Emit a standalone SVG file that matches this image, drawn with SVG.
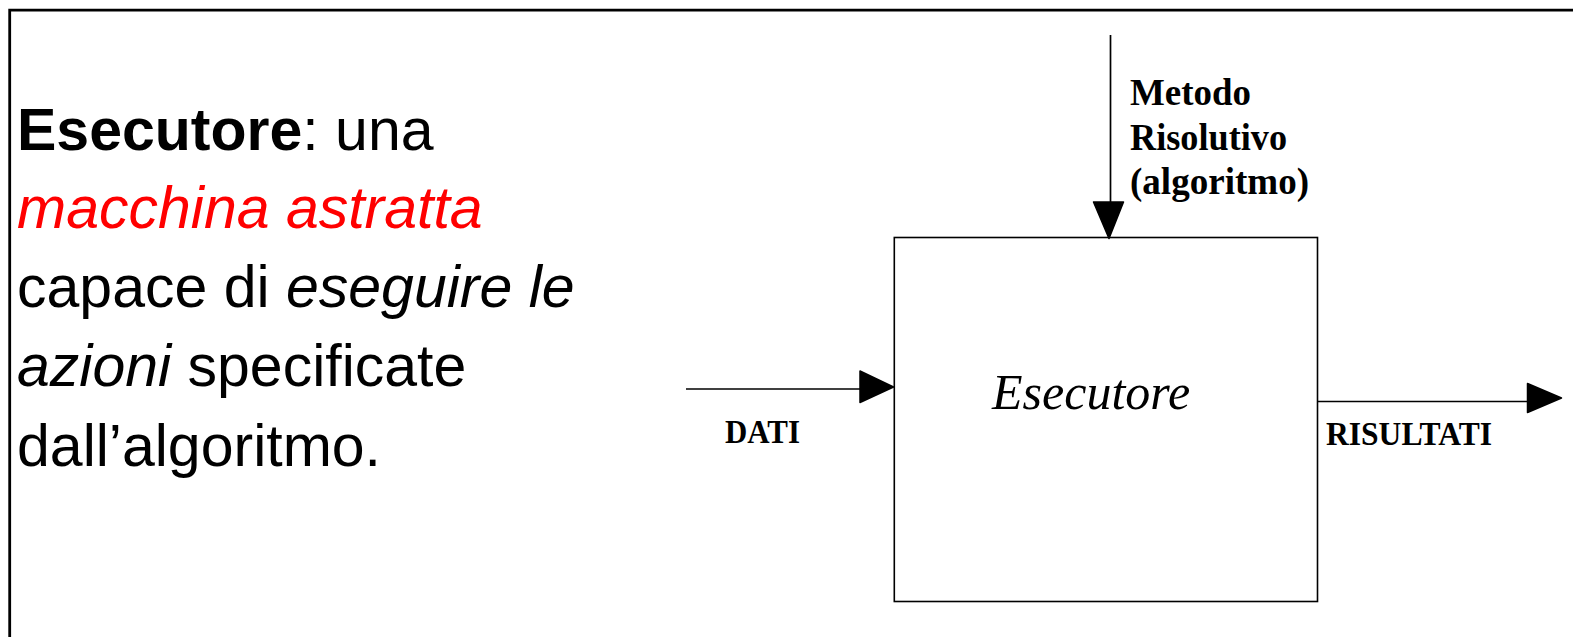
<svg xmlns="http://www.w3.org/2000/svg" width="1573" height="637" viewBox="0 0 1573 637">
  <style>
    .frame { fill: none; stroke: #000; stroke-width: 2.8; }
    .box { fill: #fff; stroke: #000; stroke-width: 1.6; }
    .wire { fill: none; stroke: #000; stroke-width: 1.7; }
    .head { fill: #000; stroke: #000; stroke-width: 1.5; stroke-linejoin: round; }
    .sans { font-family: "Liberation Sans", Arial, sans-serif; font-size: 59px; fill: #000; }
    .serifb { font-family: "Liberation Serif", "Times New Roman", serif; font-weight: bold; fill: #000; }
    .lbl { font-size: 33px; }
    .red { fill: #ff0000; }
  </style>

  <rect width="1573" height="637" fill="#fff"/>

  <!-- slide frame: open at right and bottom -->
  <path class="frame" d="M9.7 637 V10.2 H1573"/>

  <!-- description text -->
  <g id="description" class="sans">
    <text x="17" y="150"><tspan font-weight="bold">Esecutore</tspan>: una</text>
    <text x="17" y="228" class="red" font-style="italic">macchina astratta</text>
    <text x="17" y="307">capace di <tspan font-style="italic">eseguire le</tspan></text>
    <text x="17" y="386"><tspan font-style="italic">azioni</tspan> specificate</text>
    <text x="17" y="466">dall’algoritmo.</text>
  </g>

  <!-- executor block -->
  <g id="esecutore">
    <rect class="box" x="894.3" y="237.5" width="423.2" height="364"/>
    <text x="992" y="409" font-family="'Liberation Serif', 'Times New Roman', serif" font-style="italic" font-size="50" fill="#000">Esecutore</text>
  </g>

  <!-- connectors -->
  <g id="connectors">
    <g id="edge-metodo">
      <line class="wire" x1="1110.5" y1="35" x2="1110.5" y2="203"/>
      <path class="head" d="M1093.5 202 L1123.5 202 L1109 238.5 Z"/>
    </g>
    <g id="edge-dati">
      <line class="wire" x1="686" y1="389" x2="861" y2="389"/>
      <path class="head" d="M860 371 L860 402.5 L893.5 387 Z"/>
    </g>
    <g id="edge-risultati">
      <line class="wire" x1="1318" y1="401.5" x2="1528" y2="401.5"/>
      <path class="head" d="M1527.5 383.5 L1527.5 412.5 L1561.5 398 Z"/>
    </g>
  </g>

  <!-- connector labels -->
  <g id="label-metodo" class="serifb" font-size="38">
    <text x="1130" y="105" textLength="121" lengthAdjust="spacingAndGlyphs">Metodo</text>
    <text x="1130" y="150" textLength="157" lengthAdjust="spacingAndGlyphs">Risolutivo</text>
    <text x="1130" y="194" textLength="179" lengthAdjust="spacingAndGlyphs">(algoritmo)</text>
  </g>
  <g id="label-dati" class="serifb lbl">
    <text x="725" y="443" textLength="75" lengthAdjust="spacingAndGlyphs">DATI</text>
  </g>
  <g id="label-risultati" class="serifb lbl">
    <text x="1326" y="445" textLength="166" lengthAdjust="spacingAndGlyphs">RISULTATI</text>
  </g>
</svg>
